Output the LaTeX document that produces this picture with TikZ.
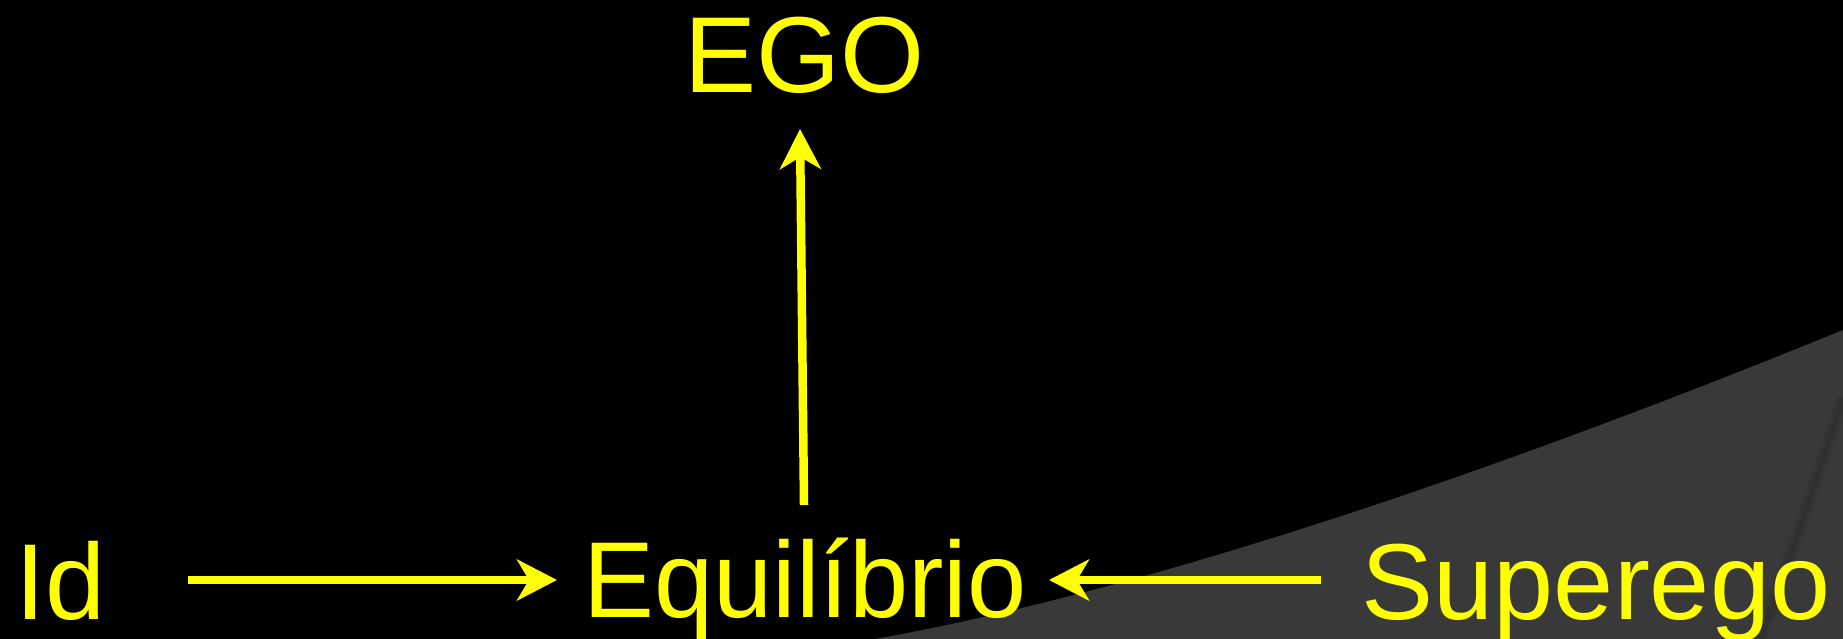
\documentclass[tikz,border=0pt]{standalone}
\usepackage{fontspec}
\usepackage{graphicx}
\setmainfont{Liberation Sans}
\usetikzlibrary{arrows.meta}
\definecolor{ylw}{HTML}{FFFF00}
\definecolor{curlgray}{HTML}{393939}
\tikzset{
  lbl/.style={text=ylw, inner sep=0pt, anchor=base, font=\fontsize{108}{120}\selectfont},
  arr/.style={draw=ylw, line width=8.5pt, -{Stealth[length=40pt, width=41pt, inset=12pt]}}
}
\begin{document}
\begin{tikzpicture}[x=1pt, y=-1pt]
\useasboundingbox (0,0) rectangle (1843,639);
\fill[black] (0,0) rectangle (1843,639);
% page-curl background shape
\fill[curlgray] (875,639) .. controls (1150,590) and (1500,470) .. (1843,330) -- (1843,639) -- cycle;
\foreach \w/\o in {14/0.04, 9/0.05, 5/0.06}{
  \draw[black, opacity=\o, line width=\w pt] (1843,398) .. controls (1815,480) and (1790,560) .. (1760,639);
}
% labels
\node[lbl] (ego) at (804.5,93) {EGO};
\node[lbl] (eq) at (805,617) {\scalebox{0.985}[1]{Equilíbrio}};
\node[lbl] (id) at (61,619) {Id};
\node[lbl] (sup) at (1596,619) {Superego};
% connector end points
\coordinate (idout) at (188,580);
\coordinate (eqinl) at (557,580);
\coordinate (supout) at (1321,580);
\coordinate (eqinr) at (1049,580);
\coordinate (eqout) at (804,505);
\coordinate (egoin) at (800,129);
\draw[arr] (idout) -- (eqinl);
\draw[arr] (supout) -- (eqinr);
\draw[arr] (eqout) -- (egoin);
\end{tikzpicture}
\end{document}
